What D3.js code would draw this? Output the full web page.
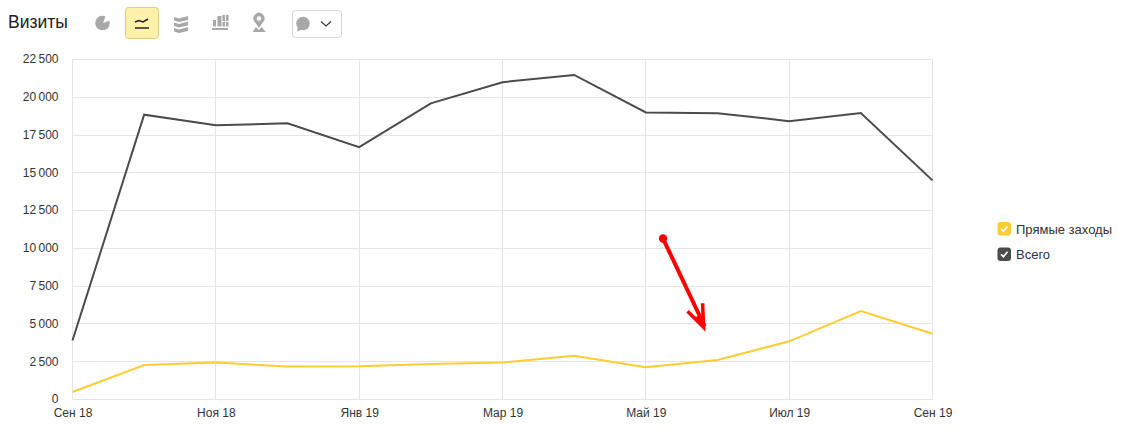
<!DOCTYPE html>
<html>
<head>
<meta charset="utf-8">
<script src="https://cdn.jsdelivr.net/npm/d3@7"></script>
<style>
html, body { margin: 0; padding: 0; background: #fff; overflow: hidden; }
text { font-family: "Liberation Sans", Arial, sans-serif; }
.tick text { font-size: 12px; fill: #333; }
</style>
</head>
<body>
<svg id="chart" width="1121" height="443"></svg>
<script>
const months = ["Сен 18", "Окт 18", "Ноя 18", "Дек 18", "Янв 19", "Фев 19", "Мар 19", "Апр 19", "Май 19", "Июн 19", "Июл 19", "Авг 19", "Сен 19"]
const total_values = [3900, 18850, 18150, 18280, 16700, 19600, 21000, 21480, 19000, 18950, 18420, 18960, 14500]
const direct_values = [500, 2280, 2450, 2180, 2200, 2350, 2450, 2900, 2130, 2620, 3850, 5850, 4350]
const y_ticks = [0, 2500, 5000, 7500, 10000, 12500, 15000, 17500, 20000, 22500]
const x_ticks = ["Сен 18", "Ноя 18", "Янв 19", "Мар 19", "Май 19", "Июл 19", "Сен 19"]
const legend_labels = ["Прямые заходы", "Всего"]
const legend_colors = ["#ffcc33", "#4d4a4a"]
// arrow drawn on the screenshot, month position and value
const arrow_from = [8.24, 10650]
const arrow_to = [8.82, 4650]

const grid_color = "#e5e5e5"
const svg = d3.select("#chart")

const x_scale = d3.scalePoint().domain(months).range([72.5, 932.5])
const y_scale = d3.scaleLinear().domain([0, 22500]).range([399.5, 59.5])
const x_index = d3.scaleLinear().domain([0, months.length - 1]).range([72.5, 932.5])

// axes + grid
const y_axis = d3.axisLeft(y_scale)
    .tickValues(y_ticks)
    .tickSize(0)
    .tickPadding(14)
    .tickFormat(d => d3.format(",")(d).replace(",", "\u2009"))
svg.append("g").attr("transform", "translate(72.5,-0.5)").call(y_axis)
    .call(g => g.select(".domain").remove())

const x_axis = d3.axisBottom(x_scale)
    .tickValues(x_ticks)
    .tickSize(0)
    .tickPadding(9)
svg.append("g").attr("transform", "translate(0,399.5)").call(x_axis)
    .call(g => g.select(".domain").remove())

const grid = svg.insert("g", ":first-child")
grid.selectAll("line.h")
    .data(y_ticks)
    .enter()
    .append("line")
    .attr("x1", 72.5)
    .attr("x2", 932.5)
    .attr("y1", d => Math.round(y_scale(d) - 0.5) + 0.5)
    .attr("y2", d => Math.round(y_scale(d) - 0.5) + 0.5)
    .attr("stroke", grid_color)
grid.selectAll("line.v")
    .data(x_ticks)
    .enter()
    .append("line")
    .attr("class", "v")
    .attr("x1", d => Math.round(x_scale(d) - 0.5) + 0.5)
    .attr("x2", d => Math.round(x_scale(d) - 0.5) + 0.5)
    .attr("y1", 59.5)
    .attr("y2", 399.5)
    .attr("stroke", grid_color)

// series
const line = d3.line().x((d, i) => x_scale(months[i])).y(d => y_scale(d))
const series = [[direct_values, legend_colors[0]], [total_values, legend_colors[1]]]
svg.selectAll("path.series")
    .data(series)
    .enter()
    .append("path")
    .attr("class", "series")
    .attr("d", d => line(d[0]))
    .attr("fill", "none")
    .attr("stroke", d => d[1])
    .attr("stroke-width", 2)

// red arrow
const ax = x_index(arrow_from[0]), ay = y_scale(arrow_from[1])
const bx = x_index(arrow_to[0]), by = y_scale(arrow_to[1])
svg.append("circle").attr("cx", ax).attr("cy", ay).attr("r", 4.2).attr("fill", "#ff0000")
svg.append("line")
    .attr("x1", ax).attr("y1", ay).attr("x2", bx).attr("y2", by - 3)
    .attr("stroke", "#ff0000").attr("stroke-width", 4)
svg.append("path")
    .attr("d", `M${bx - 17},${by - 18} L${bx - 1},${by - 2} L${bx - 2},${by - 26}`)
    .attr("fill", "none")
    .attr("stroke", "#ff0000")
    .attr("stroke-width", 3.5)
svg.append("path")
    .attr("d", `M${bx},${by} L${bx - 12},${by - 12} L${bx - 1},${by - 14} Z`)
    .attr("fill", "#ff0000")

// legend
const legend = svg.selectAll("g.legend")
    .data(legend_labels)
    .enter()
    .append("g")
    .attr("class", "legend")
    .attr("transform", (d, i) => `translate(997.5,${222 + i * 25.5})`)
legend.append("rect")
    .attr("width", 13.5).attr("height", 13.5).attr("rx", 3)
    .attr("fill", (d, i) => legend_colors[i])
legend.append("path")
    .attr("d", "M3.5,6.8 L5.9,9.2 L10,4.2")
    .attr("fill", "none").attr("stroke", "#fff").attr("stroke-width", 1.6)
legend.append("text")
    .attr("x", 18.5).attr("y", 11.5)
    .attr("font-size", 13)
    .attr("fill", "#333")
    .text(d => d)

// toolbar
svg.append("text").attr("x", 8).attr("y", 28).attr("font-size", 17.5).attr("fill", "#222").text("Визиты")

const icon_color = "#a8a8a8"
svg.append("rect").attr("x", 125.5).attr("y", 7.5).attr("width", 33).attr("height", 31).attr("rx", 3)
    .attr("fill", "#fff0aa").attr("stroke", "#e3cd80")
// pie
svg.append("circle").attr("cx", 102.5).attr("cy", 23).attr("r", 7.3).attr("fill", icon_color)
svg.append("path").attr("d", "M103,23 L106,15 L111,20 Z").attr("fill", "#fff")
// line
svg.append("path").attr("d", "M135,22 L139,20.5 L143,22 L148,19").attr("fill", "none").attr("stroke", "#222").attr("stroke-width", 1.5)
svg.append("line").attr("x1", 135).attr("x2", 149).attr("y1", 28).attr("y2", 28).attr("stroke", "#222").attr("stroke-width", 1.5)
// stacked area
;[16, 21.5, 27].forEach(y => {
    svg.append("path").attr("d", `M174,${y + 1} L179,${y + 2.5} L188,${y} L188,${y + 4} L179,${y + 6} L174,${y + 4.5} Z`).attr("fill", icon_color)
})
// bars
;[[213, 20, 3, 6.5], [217.5, 16, 4, 10.5], [222.5, 15, 2.5, 6], [222.5, 22, 2.5, 4.5], [226, 15, 2.5, 6], [226, 22, 2.5, 4.5]].forEach(b => {
    svg.append("rect").attr("x", b[0]).attr("y", b[1]).attr("width", b[2]).attr("height", b[3]).attr("fill", icon_color)
})
svg.append("rect").attr("x", 212).attr("y", 28).attr("width", 16).attr("height", 2).attr("fill", icon_color)
// map pin
svg.append("path").attr("d", "M259,28 L254.5,21.5 A5.5,5.5 0 1 1 263.5,21.5 Z").attr("fill", icon_color)
svg.append("circle").attr("cx", 259).attr("cy", 18.5).attr("r", 2.3).attr("fill", "#fff")
svg.append("path").attr("d", "M252.5,32 L256,27 L259,30 L261.5,27 L266,32 Z").attr("fill", icon_color)
// dropdown
svg.append("rect").attr("x", 292.5).attr("y", 10.5).attr("width", 49).attr("height", 27).attr("rx", 3)
    .attr("fill", "#fff").attr("stroke", "#d6d6d6")
svg.append("circle").attr("cx", 303).attr("cy", 23.5).attr("r", 6.8).attr("fill", icon_color)
svg.append("path").attr("d", "M298,27 L297,31.5 L302,29.5 Z").attr("fill", icon_color)
svg.append("path").attr("d", "M321,21.5 L326,26 L331,21.5").attr("fill", "none").attr("stroke", "#333").attr("stroke-width", 1.1)
</script>
</body>
</html>
